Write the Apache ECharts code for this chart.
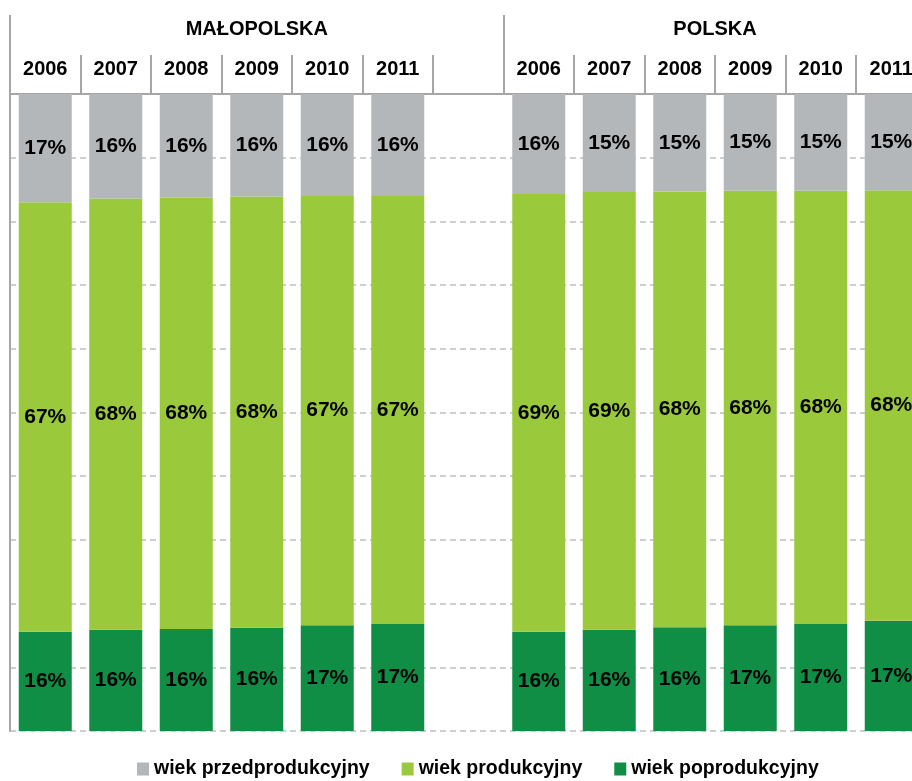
<!DOCTYPE html>
<html>
<head>
<meta charset="utf-8">
<script src="https://cdn.jsdelivr.net/npm/echarts@6/dist/echarts.min.js"></script>
<style>
  html, body { margin: 0; padding: 0; background: #fff; }
  #chart { width: 912px; height: 781px; }
</style>
</head>
<body>
<div id="chart"></div>
<script>
// data (shares in %)
var groups = ['MAŁOPOLSKA', 'POLSKA'];
var years = ['2006', '2007', '2008', '2009', '2010', '2011'];
var seriesNames = ['wiek przedprodukcyjny', 'wiek produkcyjny', 'wiek poprodukcyjny'];

var malPre  = [17.0, 16.4, 16.3, 16.1, 16.0, 16.0];
var malProd = [67.4, 67.7, 67.7, 67.7, 67.4, 67.2];
var malPost = [15.6, 15.9, 16.0, 16.2, 16.6, 16.8];

var polPre  = [15.7, 15.4, 15.3, 15.2, 15.2, 15.1];
var polProd = [68.7, 68.7, 68.4, 68.2, 68.0, 67.6];
var polPost = [15.6, 15.9, 16.3, 16.6, 16.8, 17.3];

var colors = ['#B4B7BA', '#9ACA3C', '#108E45'];
var font = 'Liberation Sans, Arial, sans-serif';
var axisGrey = '#A6A6A6';

// one empty slot between the two groups
var categories = years.concat(['']).concat(years);
var join = function (a, b) { return a.concat(['-']).concat(b); };
var preData = join(malPre, polPre);
var prodData = join(malProd, polProd);
var postData = join(malPost, polPost);

var n1 = years.length + 1;          // Małopolska block incl. spacer
var nAll = categories.length;
var groupCenters = [n1 / 2, (n1 + nAll) / 2];

var chart = echarts.init(document.getElementById('chart'));

var label = {
    show: true,
    position: 'inside',
    color: '#000',
    fontFamily: font,
    fontWeight: 'bold',
    fontSize: 21,
    formatter: function (p) { return Math.round(p.value) + '%'; }
};

var bar = function (name, data, color) {
    return {
        name: name,
        type: 'bar',
        stack: 'all',
        barWidth: 53,
        data: data,
        itemStyle: { color: color },
        label: label
    };
};

chart.setOption({
    animation: false,
    grid: { left: 10, top: 94, width: 70.5 * nAll, height: 637, outerBoundsMode: 'none', containLabel: false },
    legend: {
        left: 137,
        top: 759,
        padding: 0,
        icon: 'rect',
        itemWidth: 12,
        itemHeight: 13,
        itemGap: 32,
        data: seriesNames,
        textStyle: { fontFamily: font, fontWeight: 'bold', fontSize: 19.5, color: '#000' }
    },
    xAxis: [{
        type: 'category',
        position: 'top',
        data: categories,
        axisLine: { onZero: false, lineStyle: { color: axisGrey, width: 2 } },
        axisTick: { show: true, length: 39, interval: 0, lineStyle: { color: axisGrey, width: 2 } },
        axisLabel: { interval: 0, margin: 15, color: '#000', fontFamily: font, fontWeight: 'bold', fontSize: 20 }
    }, {
        type: 'value',
        position: 'top',
        min: 0,
        max: nAll,
        offset: 39,
        splitLine: { show: false },
        axisLine: { show: false, onZero: false },
        axisTick: { show: true, length: 40, customValues: [0, n1, nAll], lineStyle: { color: axisGrey, width: 2 } },
        axisLabel: {
            customValues: groupCenters,
            margin: 16,
            color: '#000', fontFamily: font, fontWeight: 'bold', fontSize: 20,
            formatter: function (v) { return groups[groupCenters.indexOf(v)] || ''; }
        }
    }],
    yAxis: {
        type: 'value',
        min: 0,
        max: 100,
        interval: 10,
        axisLine: { show: true, onZero: false, lineStyle: { color: axisGrey, width: 2 } },
        axisTick: { show: false },
        axisLabel: { show: false },
        splitLine: { lineStyle: { color: '#BFBFBF', width: 1.5, type: [6, 4] } }
    },
    series: [
        bar(seriesNames[2], postData, colors[2]),
        bar(seriesNames[1], prodData, colors[1]),
        bar(seriesNames[0], preData, colors[0])
    ]
});
</script>
</body>
</html>
